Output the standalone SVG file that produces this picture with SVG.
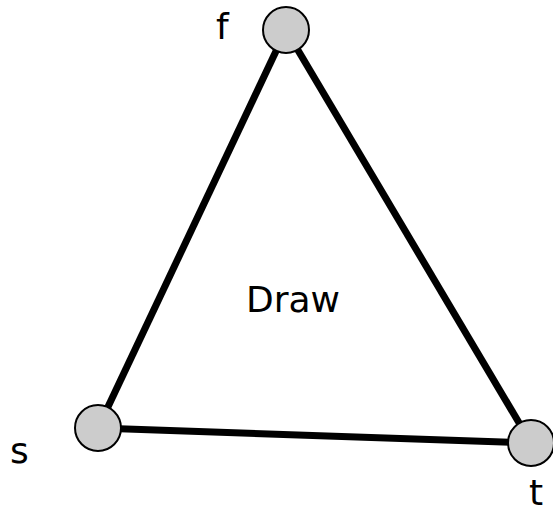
<svg xmlns="http://www.w3.org/2000/svg" width="553" height="509" viewBox="0 0 553 509">
<style>
.edge{stroke:#000;stroke-width:7;fill:none}
.node{fill:#cccccc;stroke:#000;stroke-width:2}
.lbl{font-family:"DejaVu Sans",sans-serif;font-size:36px;fill:#000}
</style>
<rect width="553" height="509" fill="#fff"/>
<g id="edges">
<line class="edge" x1="286" y1="30" x2="98" y2="428"/>
<line class="edge" x1="286" y1="30" x2="531" y2="443"/>
<line class="edge" x1="98" y1="428" x2="531" y2="443"/>
</g>
<g id="node-f"><circle class="node" cx="286" cy="30" r="23"/><text class="lbl" x="216" y="39">f</text></g>
<g id="node-s"><circle class="node" cx="98" cy="428" r="23"/><text class="lbl" x="10" y="463">s</text></g>
<g id="node-t"><circle class="node" cx="531" cy="443" r="23"/><text class="lbl" x="529" y="505">t</text></g>
<g id="label-draw"><text class="lbl" x="246" y="312">Draw</text></g>
</svg>
